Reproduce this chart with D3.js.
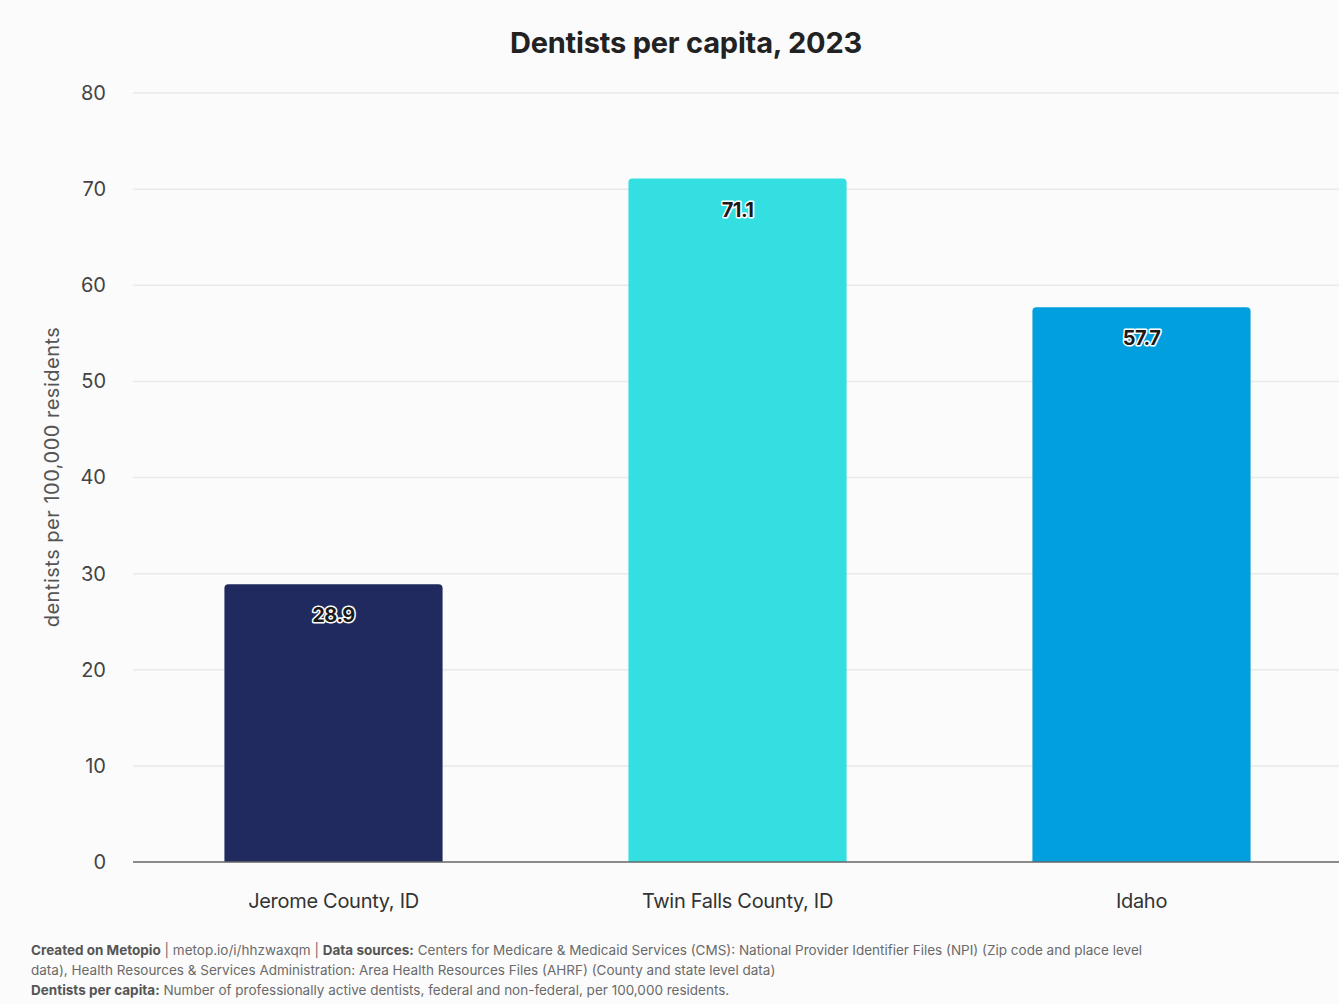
<!DOCTYPE html>
<html><head><meta charset="utf-8">
<script src="https://cdn.jsdelivr.net/npm/d3@7"></script>
<style>
html,body{margin:0;padding:0;background:#fbfbfb;}
svg{display:block;font-family:Inter,"Open Sans",sans-serif;}
</style></head>
<body>
<script>
const categories = ["Jerome County, ID", "Twin Falls County, ID", "Idaho"];
const values = [28.9, 71.1, 57.7];
const colors = ["#212a5f", "#33dfe0", "#029fde"];
const yTicks = [0, 10, 20, 30, 40, 50, 60, 70, 80];
const title = "Dentists per capita, 2023";
const yLabel = "dentists per 100,000 residents";

const W = 1339, H = 1004;
const svg = d3.select("body").append("svg").attr("width", W).attr("height", H);
svg.append("rect").attr("width", W).attr("height", H).attr("fill", "#fbfbfb");

const x = d3.scaleBand().domain(categories).range([131.5, 1343.5]).paddingInner(0.46).paddingOuter(0.23);
const y = d3.scaleLinear().domain([0, 80]).range([862, 93]);

// gridlines
svg.append("g").selectAll("line").data(yTicks.filter(d => d > 0)).join("line")
  .attr("x1", 133).attr("x2", W).attr("y1", d => y(d)).attr("y2", d => y(d))
  .attr("stroke", "#e9e9e9").attr("stroke-width", 1.5);

// y axis
const yAxis = svg.append("g").attr("transform", "translate(133,0)")
  .call(d3.axisLeft(y).tickValues(yTicks).tickSize(0).tickPadding(27));
yAxis.select(".domain").remove();
yAxis.selectAll("text").attr("font-size", 20).attr("fill", "#444").attr("font-family", "Inter, sans-serif");

// bars
const r = 4;
svg.append("g").selectAll("path").data(values).join("path")
  .attr("fill", (d, i) => colors[i])
  .attr("d", (d, i) => {
    const x0 = x(categories[i]), w = x.bandwidth(), y0 = y(d), y1 = y(0);
    return `M${x0},${y1}V${y0 + r}Q${x0},${y0} ${x0 + r},${y0}H${x0 + w - r}Q${x0 + w},${y0} ${x0 + w},${y0 + r}V${y1}Z`;
  });

// zero line
svg.append("line").attr("x1", 133).attr("x2", W).attr("y1", y(0)).attr("y2", y(0))
  .attr("stroke", "#666").attr("stroke-width", 1.5);

// value labels
svg.append("g").selectAll("text").data(values).join("text")
  .attr("x", (d, i) => x(categories[i]) + x.bandwidth() / 2)
  .attr("y", d => y(d) + 38)
  .attr("text-anchor", "middle").attr("font-size", 20).attr("font-weight", 700)
  .attr("letter-spacing", "-0.5")
  .attr("fill", "#1a1a1a").attr("stroke", "#ffffff").attr("stroke-width", 3)
  .attr("paint-order", "stroke").attr("stroke-linejoin", "round")
  .text(d => d.toFixed(1));

// x labels
svg.append("g").selectAll("text").data(categories).join("text")
  .attr("x", d => x(d) + x.bandwidth() / 2).attr("y", 908)
  .attr("text-anchor", "middle").attr("font-size", 20).attr("fill", "#333")
  .attr("letter-spacing", "-0.3")
  .text(d => d);

// title
svg.append("text").attr("x", 686).attr("y", 53).attr("text-anchor", "middle")
  .attr("font-size", 29).attr("font-weight", 700).attr("fill", "#222").attr("letter-spacing", "-0.2")
  .text(title);

// y label
svg.append("text").attr("transform", "translate(59,477) rotate(-90)").attr("text-anchor", "middle")
  .attr("font-size", 20).attr("fill", "#555").attr("letter-spacing", "0.5").text(yLabel);

// footer
const foot = svg.append("g").attr("font-size", 13.5).attr("fill", "#6a6a6a").attr("letter-spacing", "0");
const l1 = foot.append("text").attr("x", 31).attr("y", 955);
l1.append("tspan").attr("font-weight", 700).attr("fill", "#555").text("Created on Metopio");
l1.append("tspan").text(" | metop.io/i/hhzwaxqm | ");
l1.append("tspan").attr("font-weight", 700).attr("fill", "#555").text("Data sources:");
l1.append("tspan").text(" Centers for Medicare & Medicaid Services (CMS): National Provider Identifier Files (NPI) (Zip code and place level");
foot.append("text").attr("x", 31).attr("y", 975).text("data), Health Resources & Services Administration: Area Health Resources Files (AHRF) (County and state level data)");
const l3 = foot.append("text").attr("x", 31).attr("y", 995);
l3.append("tspan").attr("font-weight", 700).attr("fill", "#555").text("Dentists per capita:");
l3.append("tspan").text(" Number of professionally active dentists, federal and non-federal, per 100,000 residents.");
</script>
</body></html>
